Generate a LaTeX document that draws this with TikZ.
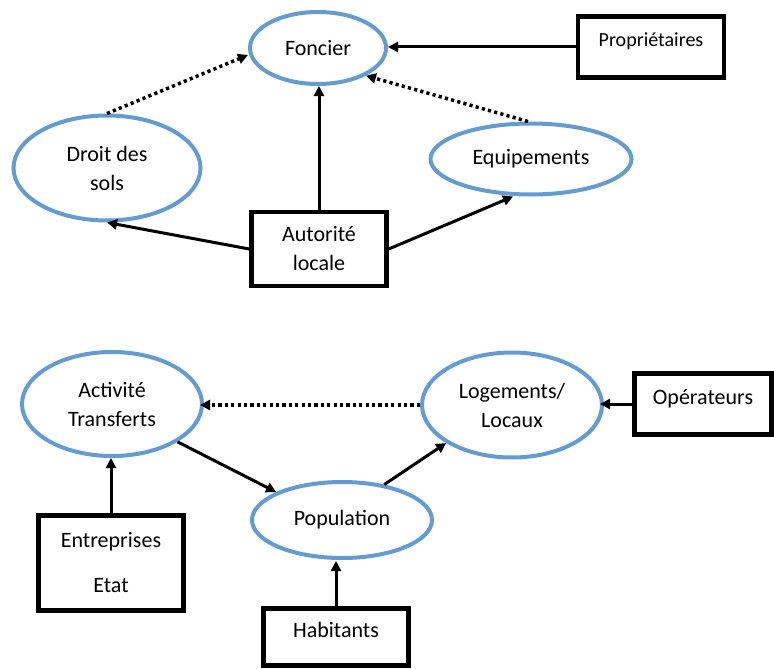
\documentclass[tikz,border=0pt]{standalone}
\usepackage{fontspec}
\setmainfont{Carlito}
\usetikzlibrary{arrows.meta,shapes.geometric}
\definecolor{ellblue}{RGB}{100,156,210}
\begin{document}
\begin{tikzpicture}[x=1pt,y=-1pt,
  every node/.style={font=\fontsize{22}{29}\selectfont, align=center, inner sep=0pt},
  ell/.style={ellipse, draw=ellblue, line width=4pt, fill=white},
  boxn/.style={rectangle, draw=black, line width=4.5pt, fill=white},
  onebox/.style={boxn, text height=12pt, text depth=12pt},
  arr/.style={line width=3pt, -{Triangle[length=10pt,width=10pt]}},
  dotarr/.style={line width=3.5pt, dash pattern=on 3.2pt off 3.2pt, -{Triangle[length=10pt,width=10pt]}}
]
\useasboundingbox (0,0) rectangle (774,669);
% top part
\node[ell, minimum width=136pt, minimum height=72pt] (fon) at (318,48) {Foncier};
\node[onebox, minimum width=146pt, minimum height=61pt, font=\fontsize{20}{26}\selectfont] (pro) at (651,47) {Propriétaires};
\node[ell, minimum width=187pt, minimum height=105pt] (dro) at (107,168) {Droit des\\sols};
\node[ell, minimum width=201pt, minimum height=71pt] (equ) at (531,159) {Equipements};
\node[boxn, minimum width=135pt, minimum height=74pt] (aut) at (319,249) {Autorité\\locale};
\draw[arr] (pro.west) -- (pro.west -| fon.east);
\draw[arr] (aut.north) -- (aut.north |- fon.south);
\draw[arr] (aut.west) -- (dro.south);
\draw[arr] (aut.east) -- ([xshift=-18pt]equ.south);
\draw[dotarr] (dro.north) -- ([yshift=-7pt]fon.west);
\draw[dotarr] ([xshift=-3pt]equ.north) -- (fon.-30);
% bottom part
\node[ell, minimum width=180pt, minimum height=104pt] (act) at (112,404) {Activité\\Transferts};
\node[ell, minimum width=180pt, minimum height=105pt] (log) at (512,405) {Logements/\\Locaux};
\node[onebox, minimum width=137pt, minimum height=61pt] (ope) at (703,404) {Opérateurs};
\node[ell, minimum width=180pt, minimum height=76pt] (pop) at (342,520) {Population};
\node[boxn, minimum width=145pt, minimum height=95pt, font=\fontsize{22}{45}\selectfont] (ent) at (111,563) {Entreprises\\Etat};
\node[onebox, minimum width=145pt, minimum height=57pt] (hab) at (336,637) {Habitants};
\draw[arr] (ent.north) -- (ent.north |- act.south);
\draw[arr] (hab.north) -- ([yshift=-1pt]hab.north |- pop.south);
\draw[arr] (act.-30) -- (pop.157);
\draw[arr] (pop.40) -- (log.-150);
\draw[arr] (ope.west) -- ([xshift=-4pt]ope.west -| log.east);
\draw[dotarr] (log.west) -- ([xshift=-4pt]log.west -| act.east);
\end{tikzpicture}
\end{document}
